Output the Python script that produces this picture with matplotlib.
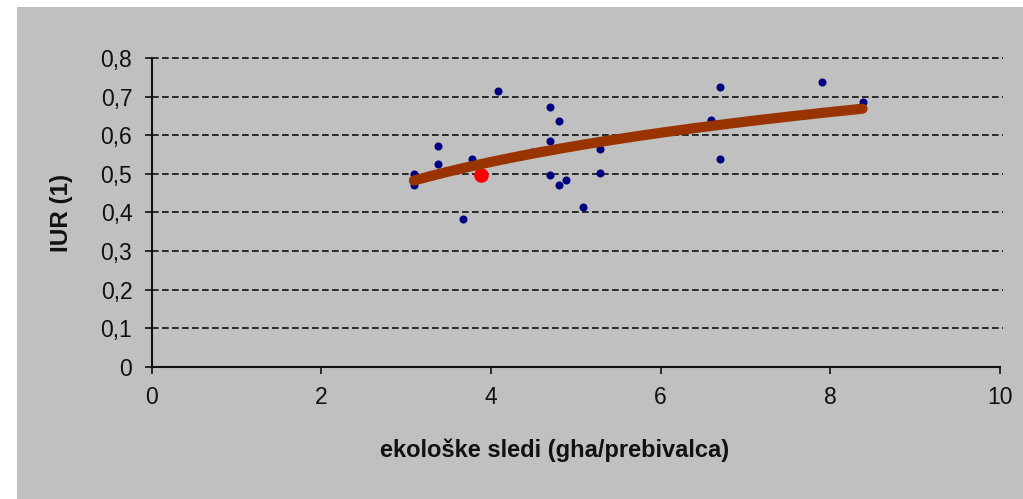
import numpy as np
import matplotlib
matplotlib.use("Agg")
import matplotlib.pyplot as plt
from matplotlib.patches import Rectangle

plt.rcParams["font.family"] = ["Liberation Sans", "DejaVu Sans"]

# ecological footprint (gha per person) vs. IUR
footprint = [3.09, 3.09, 3.38, 3.38, 3.67, 3.78, 4.08, 4.48, 4.69, 4.80, 4.69,
             4.69, 4.80, 4.88, 5.09, 5.28, 5.28, 6.59, 6.70, 6.70, 7.90, 8.38]
iur = [0.499, 0.471, 0.573, 0.525, 0.384, 0.538, 0.714, 0.558, 0.673, 0.637, 0.585,
       0.496, 0.471, 0.484, 0.414, 0.566, 0.503, 0.639, 0.726, 0.538, 0.738, 0.686]
highlight_x = [3.88]
highlight_y = [0.497]

x_ticks = [0, 2, 4, 6, 8, 10]
y_ticks = [0, 0.1, 0.2, 0.3, 0.4, 0.5, 0.6, 0.7, 0.8]
y_tick_labels = ["0", "0,1", "0,2", "0,3", "0,4", "0,5", "0,6", "0,7", "0,8"]

bg = "#C0C0C0"
ink = "#111111"

fig = plt.figure(figsize=(10.23, 4.99), dpi=100, facecolor="white")
fig.patches.append(Rectangle((17 / 1023, 0), 1 - 17 / 1023, 492 / 499,
                             transform=fig.transFigure, facecolor=bg,
                             edgecolor="none", zorder=-10))
ax = fig.add_axes([151.7 / 1023, 132.3 / 499, 848.3 / 1023, 308.4 / 499])
ax.set_facecolor(bg)

# logarithmic trend through the country points
xs = np.array(footprint)
b, a = np.polyfit(np.log(xs), np.array(iur), 1)
xt = np.linspace(xs.min(), xs.max(), 200)
ax.plot(xt, a + b * np.log(xt), color="#993300", lw=7.3,
        solid_capstyle="round", zorder=4)

ax.plot(footprint, iur, "o", color="#000080", ms=5.8, mec="none", zorder=3)
ax.plot(highlight_x, highlight_y, "o", color="#FF0000", ms=10.5, mec="none", zorder=3)

ax.set_xlim(0, 10)
ax.set_ylim(0, 0.8)
ax.set_xticks(x_ticks)
ax.set_yticks(y_ticks)
ax.set_yticklabels(y_tick_labels)
ax.tick_params(labelsize=16.5, length=5, width=1.2, colors=ink, pad=9)

for y in y_ticks[1:]:
    ax.plot([0, 10.03], [y, y], color=ink, lw=1.2,
            linestyle=(0, (4, 2)), clip_on=False, zorder=1)

for side in ("top", "right"):
    ax.spines[side].set_visible(False)
for side in ("left", "bottom"):
    ax.spines[side].set_linewidth(1.5)
    ax.spines[side].set_color(ink)

ax.set_xlabel("ekološke sledi (gha/prebivalca)", fontsize=17,
              fontweight="bold", color=ink)
ax.xaxis.set_label_coords(0.4754, -0.232)
ax.set_ylabel("IUR (1)", fontsize=17.5, fontweight="bold", color=ink)
ax.yaxis.set_label_coords(-0.0928, 0.497)

fig.savefig("out.png", dpi=100, facecolor="white")
